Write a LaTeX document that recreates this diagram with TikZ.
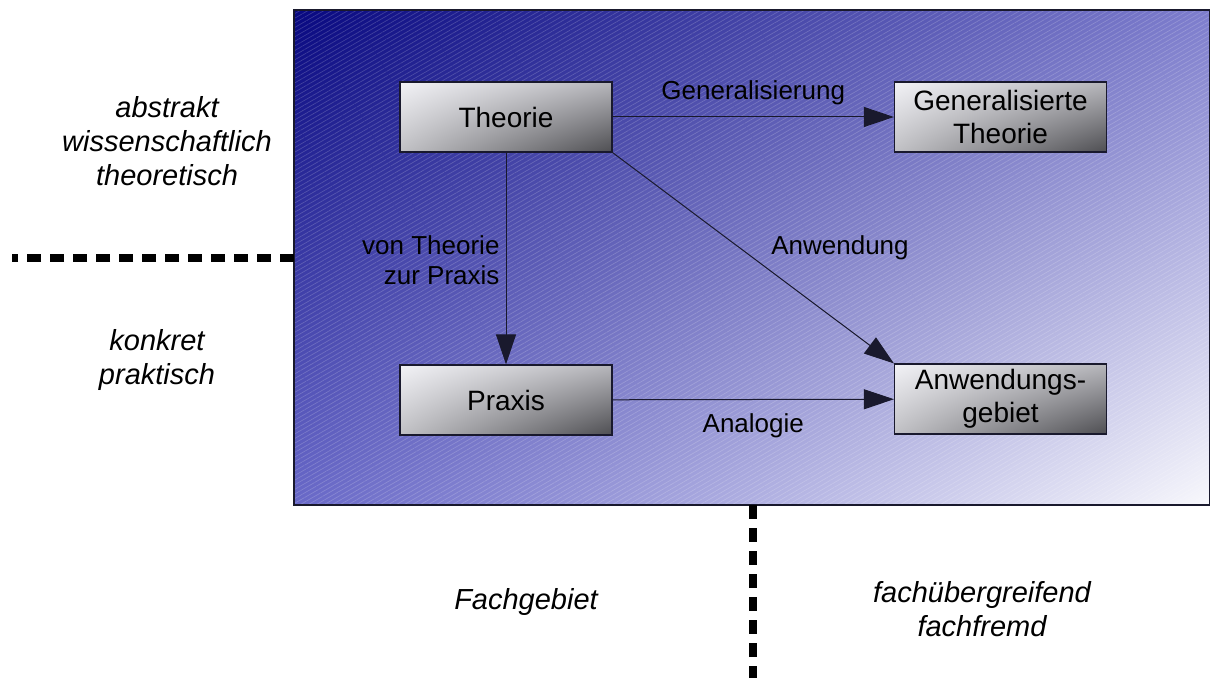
\documentclass[tikz,border=0pt]{standalone}
\usepackage{fontspec}
\setmainfont{Liberation Sans}
\usetikzlibrary{arrows.meta,patterns.meta,shadings}

\definecolor{bgUL}{RGB}{8,8,128}
\definecolor{bgUR}{RGB}{125,125,205}
\definecolor{bgLL}{RGB}{105,105,200}
\definecolor{bgLR}{RGB}{248,248,252}
\definecolor{boxUL}{RGB}{242,242,246}
\definecolor{boxUR}{RGB}{182,182,187}
\definecolor{boxLL}{RGB}{192,192,196}
\definecolor{boxLR}{RGB}{78,78,82}
\definecolor{linecol}{RGB}{25,25,45}

\tikzset{
  conceptbox/.style={draw=linecol, line width=0.6pt, minimum width=106pt, minimum height=35pt,
    upper left=boxUL, upper right=boxUR, lower left=boxLL, lower right=boxLR,
    align=center, font=\fontsize{14}{16.5}\selectfont, inner sep=0pt},
  arr/.style={draw=linecol, line width=0.5pt, -{Triangle[length=15pt,width=10pt]}},
  lbl/.style={font=\fontsize{13}{15}\selectfont, align=center, inner sep=0pt},
  side/.style={font=\fontsize{14.5}{17}\selectfont\itshape, align=center, inner sep=0pt},
  border/.style={line width=4pt, dash pattern=on 7pt off 4.5pt}
}

\begin{document}
\begin{tikzpicture}[x=0.5pt,y=-0.5pt]
\useasboundingbox (0,0) rectangle (1210,678);

% Background
\shade [upper left=bgUL, upper right=bgUR, lower left=bgLL, lower right=bgLR] (294,10) rectangle (1210,505);
\fill [pattern={Lines[angle=30,distance=2pt,line width=0.35pt]}, pattern color=white, opacity=0.18] (294,10) rectangle (1210,505);
\draw [linecol, line width=0.6pt] (294,10) rectangle (1210,505);

% Borders
\draw [border] (294,258) -- (12,258);
\draw [border] (753,505) -- (753,678);

% Side labels
\node [side] (abstrakt) at (167,141) {abstrakt\\wissenschaftlich\\theoretisch};
\node [side] (konkret) at (157,360) {konkret\\praktisch};
\node [side] (fach) at (526,602) {Fachgebiet};
\node [side] (fachfremd) at (982,609) {fachübergreifend\\fachfremd};

% Boxes
\node [conceptbox] (theorie) at (506,117) {Theorie};
\node [conceptbox] (gentheorie) at (1000.5,117) {Generalisierte\\Theorie};
\node [conceptbox] (praxis) at (506,400) {Praxis};
\node [conceptbox] (anwgebiet) at (1000.5,399) {Anwendungs-\\gebiet};

% Arrows
\draw [arr] (theorie) -- node [lbl, above=6pt] {Generalisierung} (gentheorie);
\draw [arr] (theorie) -- node [lbl, align=right, left=3pt, pos=0.51] {von Theorie\\zur Praxis} (praxis);
\draw [arr] (theorie.south east) -- (anwgebiet.north west);
\node [lbl] (anwlabel) at (840,248) {Anwendung};
\draw [arr] (praxis) -- node [lbl, below=7pt] {Analogie} (anwgebiet);
\end{tikzpicture}
\end{document}
